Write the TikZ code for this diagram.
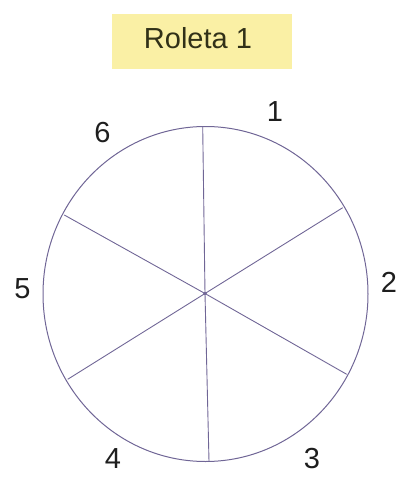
\documentclass[tikz,border=0pt]{standalone}
\usepackage{fontspec}
\setmainfont{Liberation Sans}
\definecolor{wheel}{RGB}{112,102,150}
\definecolor{titlebg}{RGB}{250,240,165}
\definecolor{ink}{RGB}{30,30,30}
\tikzset{
  spoke/.style={draw=wheel, line width=0.9pt},
  rim/.style={draw=wheel, line width=1pt},
  numlabel/.style={font=\fontsize{29}{31}\selectfont, text=ink, inner sep=0pt},
  titlebox/.style={font=\fontsize{29}{31}\selectfont, text=ink!80!olive, inner sep=0pt}
}
\begin{document}
\begin{tikzpicture}[x=1pt,y=-1pt]
\useasboundingbox (0,0) rectangle (400,477);
% title
\fill[titlebg] (112,14) rectangle (292,69);
\node[titlebox] (title) at (198,38) {Roleta 1};
% wheel
\coordinate (c) at (205,293.5);
\draw[rim] (205.5,294) ellipse [x radius=162.5, y radius=167.5];
\coordinate (t) at (202.7,126.5);
\coordinate (b) at (209,461.2);
\coordinate (ur) at (342.7,207.7);
\coordinate (ll) at (67.7,379.3);
\coordinate (ul) at (64.3,215);
\coordinate (lr) at (346.7,374.3);
\draw[spoke] (t) -- (c) -- (b);
\draw[spoke] (ur) -- (c) -- (ll);
\draw[spoke] (ul) -- (c) -- (lr);
\fill[wheel] (c) circle (1.8);
% labels
\node[numlabel] (n1) at (275,112) {1};
\node[numlabel] (n2) at (389,282) {2};
\node[numlabel] (n3) at (312,459) {3};
\node[numlabel] (n4) at (113,459) {4};
\node[numlabel] (n5) at (22.5,289) {5};
\node[numlabel] (n6) at (102.5,133) {6};
\end{tikzpicture}
\end{document}
